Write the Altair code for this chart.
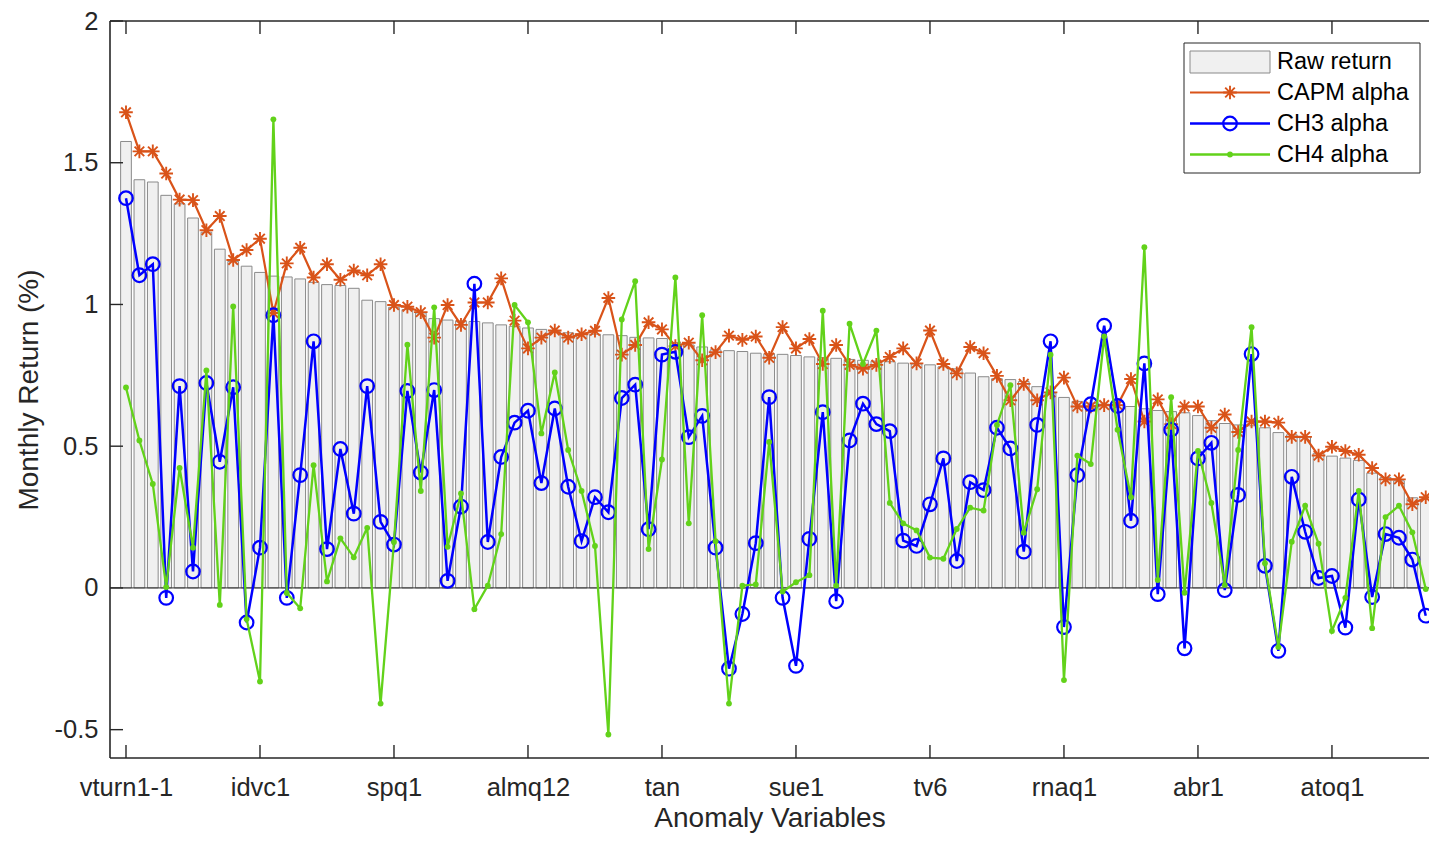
import altair as alt
import pandas as pd

# ---------------- data ----------------
raw = [1.575, 1.44, 1.432, 1.385, 1.355, 1.305, 1.255, 1.195, 1.152, 1.135,
       1.113, 1.1, 1.097, 1.09, 1.078, 1.07, 1.067, 1.057, 1.015, 1.01,
       0.99, 0.982, 0.97, 0.95, 0.945, 0.942, 0.94, 0.935, 0.928, 0.923,
       0.917, 0.912, 0.905, 0.9, 0.897, 0.895, 0.893, 0.89, 0.884, 0.882,
       0.88, 0.866, 0.857, 0.85, 0.84, 0.837, 0.834, 0.828, 0.826, 0.824,
       0.82, 0.815, 0.812, 0.81, 0.806, 0.803, 0.8, 0.798, 0.793, 0.79,
       0.787, 0.78, 0.773, 0.758, 0.745, 0.738, 0.735, 0.728, 0.71, 0.688,
       0.672, 0.658, 0.652, 0.648, 0.645, 0.64, 0.632, 0.626, 0.622, 0.618,
       0.608, 0.59, 0.58, 0.575, 0.572, 0.565, 0.548, 0.54, 0.533, 0.475,
       0.465, 0.458, 0.45, 0.405, 0.39, 0.378, 0.318, 0.312]

capm = [1.678, 1.54, 1.54, 1.462, 1.37, 1.368, 1.262, 1.312, 1.157, 1.192,
        1.232, 0.97, 1.145, 1.2, 1.095, 1.142, 1.087, 1.12, 1.103, 1.142,
        0.998, 0.992, 0.973, 0.883, 0.998, 0.928, 1.007, 1.007, 1.092, 0.943,
        0.845, 0.883, 0.908, 0.883, 0.895, 0.907, 1.023, 0.823, 0.857, 0.937,
        0.912, 0.853, 0.865, 0.803, 0.832, 0.89, 0.875, 0.887, 0.812, 0.92,
        0.845, 0.878, 0.79, 0.857, 0.787, 0.773, 0.787, 0.815, 0.845, 0.792,
        0.908, 0.79, 0.757, 0.85, 0.828, 0.748, 0.662, 0.72, 0.662, 0.69,
        0.742, 0.64, 0.64, 0.645, 0.645, 0.737, 0.587, 0.665, 0.578, 0.64,
        0.64, 0.565, 0.612, 0.55, 0.587, 0.587, 0.583, 0.533, 0.533, 0.467,
        0.498, 0.483, 0.47, 0.423, 0.383, 0.383, 0.295, 0.32]

ch3 = [1.375, 1.103, 1.142, -0.035, 0.712, 0.058, 0.723, 0.445, 0.708, -0.122,
       0.142, 0.962, -0.035, 0.398, 0.87, 0.137, 0.49, 0.262, 0.712, 0.233,
       0.153, 0.695, 0.407, 0.698, 0.025, 0.287, 1.073, 0.162, 0.462, 0.583,
       0.625, 0.37, 0.633, 0.357, 0.165, 0.32, 0.267, 0.67, 0.717, 0.207,
       0.823, 0.833, 0.532, 0.607, 0.142, -0.285, -0.092, 0.158, 0.673, -0.035,
       -0.275, 0.173, 0.62, -0.047, 0.52, 0.65, 0.578, 0.553, 0.167, 0.148,
       0.295, 0.457, 0.095, 0.373, 0.345, 0.565, 0.492, 0.128, 0.575, 0.87,
       -0.138, 0.398, 0.648, 0.925, 0.642, 0.237, 0.792, -0.022, 0.558, -0.213,
       0.457, 0.512, -0.008, 0.328, 0.825, 0.078, -0.222, 0.392, 0.198, 0.035,
       0.042, -0.14, 0.312, -0.032, 0.19, 0.177, 0.1, -0.098]

ch4 = [0.707, 0.52, 0.367, 0.003, 0.423, 0.142, 0.767, -0.06, 0.993, -0.11,
       -0.33, 1.653, -0.018, -0.072, 0.433, 0.023, 0.175, 0.108, 0.212, -0.408,
       0.162, 0.858, 0.342, 0.99, 0.145, 0.333, -0.075, 0.008, 0.19, 0.998,
       0.937, 0.545, 0.76, 0.487, 0.342, 0.148, -0.517, 0.947, 1.082, 0.137,
       0.453, 1.095, 0.228, 0.962, 0.165, -0.408, 0.008, 0.012, 0.515, -0.013,
       0.02, 0.045, 0.978, 0.008, 0.932, 0.79, 0.908, 0.3, 0.228, 0.203,
       0.107, 0.103, 0.208, 0.283, 0.273, 0.575, 0.715, 0.195, 0.348, 0.823,
       -0.325, 0.467, 0.437, 0.887, 0.558, 0.32, 1.202, 0.028, 0.673, -0.017,
       0.483, 0.3, 0.01, 0.487, 0.92, 0.087, -0.208, 0.163, 0.29, 0.156,
       -0.152, -0.035, 0.342, -0.142, 0.25, 0.29, 0.196, -0.004]

tick_idx = [1, 11, 21, 31, 41, 51, 61, 71, 81, 91]
tick_labels = ["vturn1-1", "idvc1", "spq1", "almq12", "tan",
               "sue1", "tv6", "rnaq1", "abr1", "atoq1"]
series_names = ["Raw return", "CAPM alpha", "CH3 alpha", "CH4 alpha"]
y_ticks = [-0.5, 0, 0.5, 1, 1.5, 2]

# ---------------- layout / style ----------------
W, H = 1319, 737
X_DOM = [-0.194, -0.194 + W / 13.3995]
Y_DOM = [-0.6, 2.0]
AX = "#262626"
C_CAPM = "#D95319"
C_CH3 = "#0000FF"
C_CH4 = "#62D21A"
BAR_FILL = "#F0F0F0"
BAR_EDGE = "#8A8A8A"
FONT = "Liberation Sans"
STAR = ("M-1,0L1,0M0,-1L0,1M-0.7071,-0.7071L0.7071,0.7071"
        "M-0.7071,0.7071L0.7071,-0.7071")

df = pd.DataFrame({"idx": list(range(1, len(raw) + 1)), "raw": raw,
                   "capm": capm, "ch3": ch3, "ch4": ch4})
one = pd.DataFrame({"k": [0]})
ytick_df = pd.DataFrame({"v": y_ticks})
xtick_df = pd.DataFrame({"t": tick_idx})

xs = alt.Scale(domain=X_DOM, nice=False, zero=False)
ys = alt.Scale(domain=Y_DOM, nice=False, zero=False)

label_expr = " : ".join(f"datum.value == {i} ? '{l}'"
                        for i, l in zip(tick_idx, tick_labels)) + " : ''"

x_axis = alt.Axis(values=tick_idx, labelExpr=label_expr, grid=False,
                  domain=False, ticks=False, tickSize=0, labelPadding=17,
                  labelFontSize=25.5, labelColor=AX, labelFont=FONT,
                  labelFlush=False, labelOverlap=False,
                  title="Anomaly Variables", titleFontSize=28,
                  titleFontWeight="normal", titleColor=AX, titleFont=FONT,
                  titleY=68, titleBaseline="alphabetic")
y_axis = alt.Axis(values=y_ticks, labelExpr="'' + datum.value", grid=False,
                  domain=False, ticks=False, tickSize=0, labelPadding=12,
                  labelFontSize=25.5, labelColor=AX, labelFont=FONT,
                  labelFlush=False, labelOverlap=False,
                  title="Monthly Return (%)", titleFontSize=28,
                  titleFontWeight="normal", titleColor=AX, titleFont=FONT,
                  titleX=-73, titleY=H / 2, titleAngle=270,
                  titleBaseline="alphabetic", titleAlign="center")

zero_line = alt.Chart(one).mark_rule(color=AX, strokeWidth=1).encode(
    x=alt.value(0), x2=alt.value(W), y=alt.datum(0))

bars = alt.Chart(df).transform_calculate(
    x0="datum.idx - 0.4", x1="datum.idx + 0.4"
).mark_rect(fill=BAR_FILL, stroke=BAR_EDGE, strokeWidth=1).encode(
    x=alt.X("x0:Q", scale=xs, axis=x_axis), x2="x1:Q",
    y=alt.Y("raw:Q", scale=ys, axis=y_axis), y2=alt.datum(0))


def line(field, color, width):
    return alt.Chart(df).mark_line(color=color, strokeWidth=width).encode(
        x=alt.X("idx:Q", scale=xs), y=alt.Y(f"{field}:Q", scale=ys))


capm_line = line("capm", C_CAPM, 2.2)
capm_pts = alt.Chart(df).mark_point(shape=STAR, size=185, filled=False,
                                    color=C_CAPM, strokeWidth=1.9, opacity=1).encode(
    x=alt.X("idx:Q", scale=xs), y=alt.Y("capm:Q", scale=ys))
ch3_line = line("ch3", C_CH3, 2.5)
ch3_pts = alt.Chart(df).mark_point(shape="circle", size=185, filled=False,
                                   color=C_CH3, strokeWidth=2.2, opacity=1).encode(
    x=alt.X("idx:Q", scale=xs), y=alt.Y("ch3:Q", scale=ys))
ch4_line = line("ch4", C_CH4, 2.3)
ch4_pts = alt.Chart(df).mark_point(shape="circle", size=34, filled=True,
                                   color=C_CH4, opacity=1).encode(
    x=alt.X("idx:Q", scale=xs), y=alt.Y("ch4:Q", scale=ys))

# ---------------- inside ticks and frame ----------------
TL = 13
ytl = alt.Chart(ytick_df).mark_rule(color=AX, strokeWidth=1.4).encode(
    y=alt.Y("v:Q", scale=ys), x=alt.value(0), x2=alt.value(TL))
xtb = alt.Chart(xtick_df).mark_rule(color=AX, strokeWidth=1.4).encode(
    x=alt.X("t:Q", scale=xs), y=alt.value(H - TL), y2=alt.value(H))
xtt = alt.Chart(xtick_df).mark_rule(color=AX, strokeWidth=1.4).encode(
    x=alt.X("t:Q", scale=xs), y=alt.value(0), y2=alt.value(TL))
fr_left = alt.Chart(one).mark_rule(color=AX, strokeWidth=1.6).encode(
    x=alt.value(0), y=alt.value(0), y2=alt.value(H))
fr_top = alt.Chart(one).mark_rule(color=AX, strokeWidth=1.6).encode(
    x=alt.value(0), x2=alt.value(W), y=alt.value(0))
fr_bot = alt.Chart(one).mark_rule(color=AX, strokeWidth=1.6).encode(
    x=alt.value(0), x2=alt.value(W), y=alt.value(H))

# ---------------- legend ----------------
LX0, LX1 = 1074, 1310
LY0, LY1 = 22, 152
SX0, SX1, SXM = 1080, 1160, 1120
TX = 1167
rows = [41, 71.5, 102.5, 133.5]

leg = [
    alt.Chart(one).mark_rect(fill="white", stroke=AX, strokeWidth=1).encode(
        x=alt.value(LX0), x2=alt.value(LX1), y=alt.value(LY0), y2=alt.value(LY1)),
    alt.Chart(one).mark_rect(fill=BAR_FILL, stroke=BAR_EDGE, strokeWidth=1).encode(
        x=alt.value(SX0), x2=alt.value(SX1), y=alt.value(rows[0] - 11),
        y2=alt.value(rows[0] + 11)),
    alt.Chart(one).mark_rule(color=C_CAPM, strokeWidth=2.2).encode(
        x=alt.value(SX0), x2=alt.value(SX1), y=alt.value(rows[1])),
    alt.Chart(one).mark_point(shape=STAR, size=185, filled=False, color=C_CAPM,
                              strokeWidth=1.9, opacity=1).encode(
        x=alt.value(SXM), y=alt.value(rows[1])),
    alt.Chart(one).mark_rule(color=C_CH3, strokeWidth=2.5).encode(
        x=alt.value(SX0), x2=alt.value(SX1), y=alt.value(rows[2])),
    alt.Chart(one).mark_point(shape="circle", size=185, filled=False, color=C_CH3,
                              strokeWidth=2.2, opacity=1).encode(
        x=alt.value(SXM), y=alt.value(rows[2])),
    alt.Chart(one).mark_rule(color=C_CH4, strokeWidth=2.3).encode(
        x=alt.value(SX0), x2=alt.value(SX1), y=alt.value(rows[3])),
    alt.Chart(one).mark_point(shape="circle", size=34, filled=True, color=C_CH4,
                              opacity=1).encode(
        x=alt.value(SXM), y=alt.value(rows[3])),
]
for name, ry in zip(series_names, rows):
    leg.append(alt.Chart(one).mark_text(align="left", baseline="middle",
                                        fontSize=23.5, font=FONT, color="black").encode(
        x=alt.value(TX), y=alt.value(ry), text=alt.value(name)))

chart = alt.layer(
    bars, zero_line, capm_line, capm_pts, ch3_line, ch3_pts, ch4_line, ch4_pts,
    ytl, xtb, xtt, fr_left, fr_top, fr_bot, *leg
).properties(
    width=W, height=H,
    autosize=alt.AutoSizeParams(type="none"),
    padding={"left": 102, "top": 13, "right": 0, "bottom": 76},
    background="white",
).configure_view(stroke=None)

chart.save("out.html", embed_options={"renderer": "svg", "actions": False})
